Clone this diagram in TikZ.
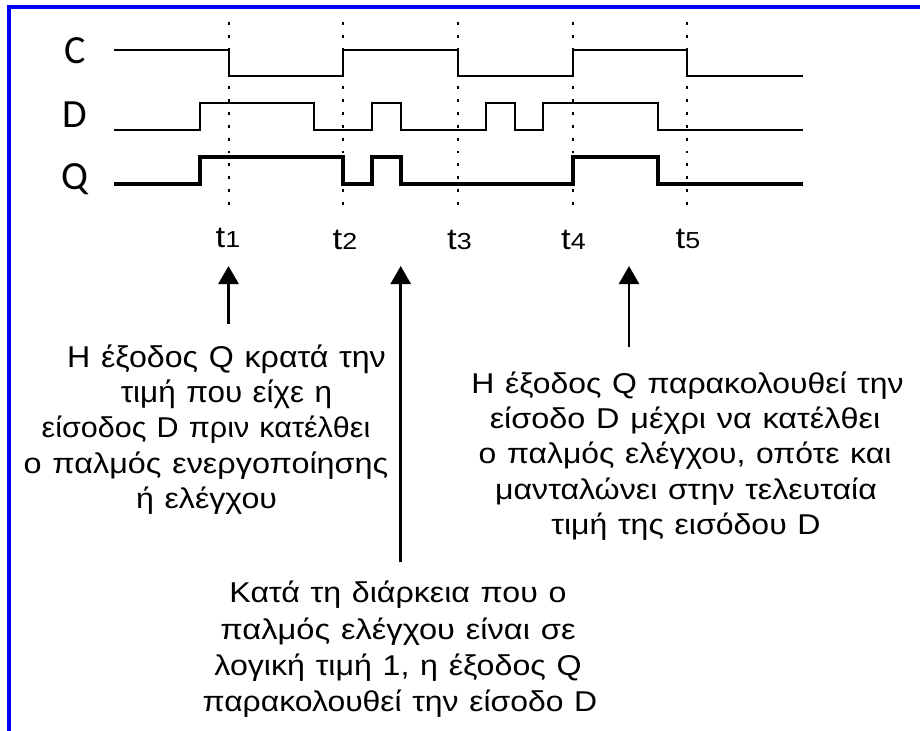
\documentclass[tikz,border=0pt]{standalone}
\usepackage{fontspec}
\usepackage{graphicx}
\setmainfont{Liberation Sans}
\newfontfamily\labfont{Carlito}
\usetikzlibrary{arrows.meta}
% one printed line: horizontal scale, vertical scale, shift in pixels, text
\newcommand\noteline[4]{\makebox[0pt]{\kern\dimexpr #3pt*3/2\relax\scalebox{#1}[#2]{#4}}}
\newcommand\tmark[1]{\scalebox{1.3}[1.12]{t{\fontsize{15.5}{15.5}\selectfont #1}}}
\tikzset{
  px/.style={x=0.75pt,y=-0.75pt},
  frameline/.style={draw=blue,line width=3pt},
  sigC/.style={draw=black,line width=1.7pt,line join=miter},
  sigQ/.style={draw=black,line width=2.5pt,line join=miter},
  guide/.style={draw=black,line width=2pt,dash pattern=on 2.2pt off 7.44pt},
  upar/.style={draw=black,line width=2pt,-{Triangle[length=13.5pt,width=15pt]}},
  siglab/.style={inner sep=0pt,anchor=base,font=\labfont\fontsize{30}{30}\selectfont},
  tlab/.style={inner sep=0pt,anchor=base,font=\fontsize{20}{20}\selectfont},
  note/.style={inner sep=0pt,align=center,anchor=north,text width=1pt,font=\fontsize{17.6}{26.45}\selectfont}
}
\begin{document}
\begin{tikzpicture}[px]
\useasboundingbox (0,0) rectangle (920,731);
\fill[white] (0,0) rectangle (920,731);
\draw[frameline] (920,7) -- (9,7) -- (9,731);
% guides
\foreach \n/\x in {1/229,2/343,3/458,4/573,5/687}{
  \coordinate (gt\n) at (\x,22);
  \coordinate (gb\n) at (\x,207);
  \draw[guide] (gt\n) -- (gb\n);
}
% signals
\coordinate (cs) at (114,50);
\draw[sigC] (cs) -- (229,50) -- (229,76) -- (343,76) -- (343,50) -- (458,50) -- (458,76) -- (573,76) -- (573,50) -- (687,50) -- (687,76) -- (803,76);
\coordinate (ds) at (114,130);
\draw[sigC] (ds) -- (200,130) -- (200,103) -- (314,103) -- (314,130) -- (372,130) -- (372,103) -- (401,103) -- (401,130) -- (486,130) -- (486,103) -- (515,103) -- (515,130) -- (543,130) -- (543,103) -- (658,103) -- (658,130) -- (803,130);
\coordinate (qs) at (114,184);
\draw[sigQ] (qs) -- (200,184) -- (200,157) -- (343,157) -- (343,184) -- (372,184) -- (372,157) -- (401,157) -- (401,184) -- (573,184) -- (573,157) -- (658,157) -- (658,184) -- (803,184);
% labels
\node[siglab] (lc) at (75,64) {C};
\node[siglab] (ld) at (75,128) {D};
\node[siglab] (lq) at (75,189) {Q};
\node[tlab] (t1) at (228,247) {\tmark{1}};
\node[tlab] (t2) at (345,249) {\tmark{2}};
\node[tlab] (t3) at (459.5,249) {\tmark{3}};
\node[tlab] (t4) at (573.5,249) {\tmark{4}};
\node[tlab] (t5) at (688,248) {\tmark{5}};
% notes
\node[note] (n1) at (206,344.5) {%
\noteline{1.37}{1.28}{20.5}{Η έξοδος Q κρατά την}\\
\noteline{1.34}{1.28}{20.5}{τιμή που είχε η}\\
\noteline{1.30}{1.22}{0}{είσοδος D πριν κατέλθει}\\
\noteline{1.38}{1.22}{0}{ο παλμός ενεργοποίησης}\\
\noteline{1.37}{1.22}{0.5}{ή ελέγχου}};
\node[note] (n2) at (398,581) {%
\noteline{1.37}{1.22}{0}{Κατά τη διάρκεια που ο}\\[0.8pt]
\noteline{1.39}{1.22}{0}{παλμός ελέγχου είναι σε}\\[0.8pt]
\noteline{1.37}{1.22}{0}{λογική τιμή 1, η έξοδος Q}\\[0.8pt]
\noteline{1.36}{1.22}{2}{παρακολουθεί την είσοδο D}};
\node[note] (n3) at (686,371.5) {%
\noteline{1.36}{1.22}{1.5}{Η έξοδος Q παρακολουθεί την}\\
\noteline{1.38}{1.22}{-1}{είσοδο D μέχρι να κατέλθει}\\
\noteline{1.36}{1.22}{-1}{ο παλμός ελέγχου, οπότε και}\\
\noteline{1.37}{1.22}{0}{μανταλώνει στην τελευταία}\\
\noteline{1.365}{1.22}{0}{τιμή της εισόδου D}};
% arrows
\coordinate (a1) at (228.5,266);
\coordinate (a1s) at (228.5,324);
\coordinate (a2) at (400.7,266);
\coordinate (a2s) at (400.7,562);
\coordinate (a3) at (629,266);
\coordinate (a3s) at (629,347);
\draw[upar] (a1s) -- (a1);
\draw[upar] (a2s) -- (a2);
\draw[upar] (a3s) -- (a3);
\end{tikzpicture}
\end{document}
